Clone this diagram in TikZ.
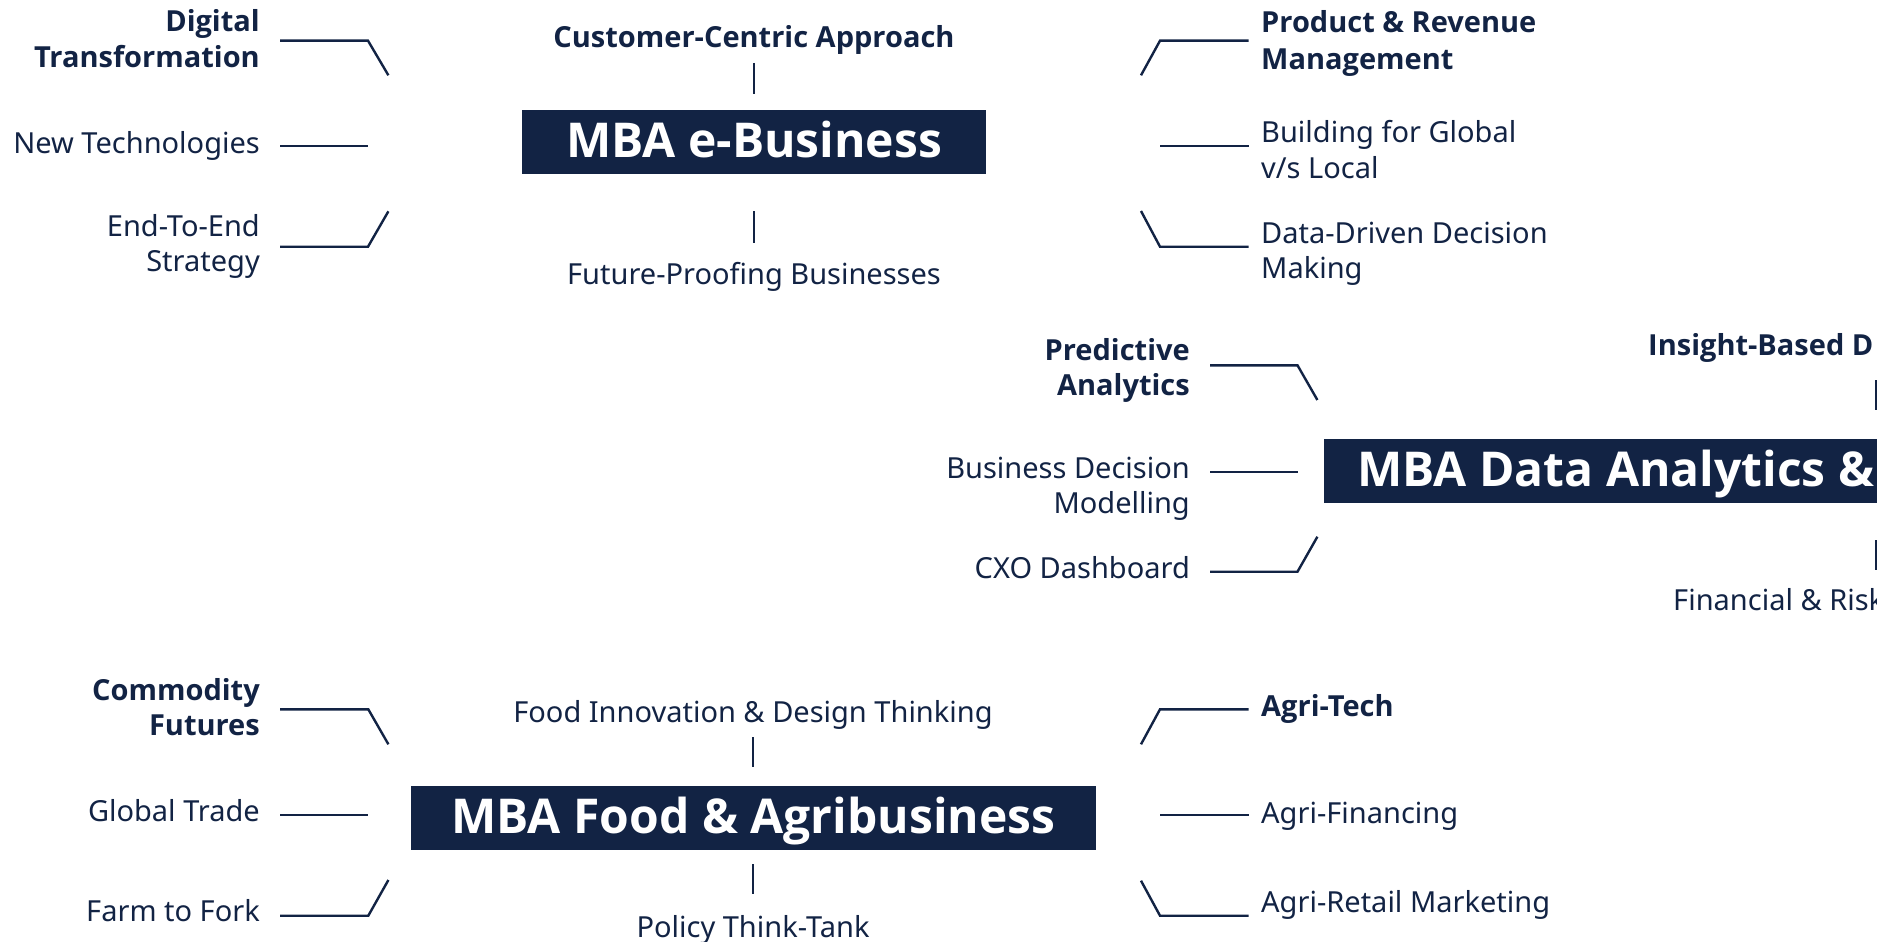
\documentclass[tikz,border=0pt]{standalone}
\usepackage{fontspec}
\setmainfont{Noto Sans}
\newfontfamily\heavyfam{Open Sans}
\definecolor{navy}{RGB}{18,35,68}
\begin{document}
\begin{tikzpicture}[x=1pt,y=-1pt,
  lbl/.style={inner sep=0pt,text=navy,font=\fontsize{29}{35}\selectfont},
  lblb/.style={lbl,font=\fontsize{29}{35}\selectfont\heavyfam\bfseries},
  boxbg/.style={fill=navy,inner sep=0pt,draw=none},
  ttl/.style={inner sep=0pt,text=white,font=\fontsize{48}{56}\selectfont\heavyfam\bfseries},
  link/.style={draw=navy,line width=2.4pt,line join=miter}]
\useasboundingbox (0,0) rectangle (1877,942);

% ---------- MBA e-Business ----------
\node[boxbg,minimum width=464pt,minimum height=64pt] (ebBox) at (754,142) {};
\node[ttl,anchor=base] (ebTitle) at (754,157.5) {MBA e-Business};

\node[lblb,anchor=base east] (dtA) at (260,32) {Digital};
\node[lblb,anchor=base east] (dtB) at (260,68) {Transformation};
\node[lbl,anchor=base east] (nt) at (260,153) {New Technologies};
\node[lbl,anchor=base east] (eeA) at (260,236) {End-To-End};
\node[lbl,anchor=base east] (eeB) at (260,271) {Strategy};

\node[lblb,anchor=base] (cca) at (754,48) {Customer-Centric Approach};
\node[lbl,anchor=base] (fpb) at (754,284) {Future-Proofing Businesses};

\node[lblb,anchor=base west] (prA) at (1261,33) {Product \& Revenue};
\node[lblb,anchor=base west] (prB) at (1261,69.5) {Management};
\node[lbl,anchor=base west] (bgA) at (1261,142) {Building for Global};
\node[lbl,anchor=base west] (bgB) at (1261,178.5) {v/s Local};
\node[lbl,anchor=base west] (ddA) at (1261,243.5) {Data-Driven Decision};
\node[lbl,anchor=base west] (ddB) at (1261,278.5) {Making};

\coordinate (e1a) at (280,40.7);  \coordinate (e1b) at (368,40.7);  \coordinate (e1c) at (388.4,75.3);
\coordinate (e2a) at (280,146);   \coordinate (e2b) at (368,146);
\coordinate (e3a) at (280,246.7); \coordinate (e3b) at (368,246.7); \coordinate (e3c) at (388.4,211.3);
\coordinate (e4a) at (754,63);    \coordinate (e4b) at (754,94);
\coordinate (e5a) at (754,211);   \coordinate (e5b) at (754,243);
\coordinate (e6a) at (1141,75.3); \coordinate (e6b) at (1160,40.7); \coordinate (e6c) at (1248.5,40.7);
\coordinate (e7a) at (1160,146);  \coordinate (e7b) at (1248.5,146);
\coordinate (e8a) at (1141,211);  \coordinate (e8b) at (1160,246.7); \coordinate (e8c) at (1248.5,246.7);
\draw[link] (e1a) -- (e1b) -- (e1c);
\draw[link] (e2a) -- (e2b);
\draw[link] (e3a) -- (e3b) -- (e3c);
\draw[link] (e4a) -- (e4b);
\draw[link] (e5a) -- (e5b);
\draw[link] (e6a) -- (e6b) -- (e6c);
\draw[link] (e7a) -- (e7b);
\draw[link] (e8a) -- (e8b) -- (e8c);

% ---------- MBA Data Analytics ----------
\node[boxbg,minimum width=1104pt,minimum height=64pt,anchor=west] (daBox) at (1324,471) {};
\node[ttl,anchor=base west] (daTitle) at (1357,486) {MBA Data Analytics \&};

\node[lblb,anchor=base east] (paA) at (1190,360.3) {Predictive};
\node[lblb,anchor=base east] (paB) at (1190,395) {Analytics};
\node[lbl,anchor=base east] (bdA) at (1190,478.3) {Business Decision};
\node[lbl,anchor=base east] (bdB) at (1190,513.3) {Modelling};
\node[lbl,anchor=base east] (cxo) at (1190,578.3) {CXO Dashboard};

\node[lblb,anchor=base west] (ibd) at (1648,355) {Insight-Based D};
\node[lbl,anchor=base west] (frm) at (1673,610) {Financial \& Risk};

\coordinate (d1a) at (1210,365.3); \coordinate (d1b) at (1297.5,365.3); \coordinate (d1c) at (1317.4,400);
\coordinate (d2a) at (1210,471.7); \coordinate (d2b) at (1297.5,471.7);
\coordinate (d3a) at (1210,571.7); \coordinate (d3b) at (1297.5,571.7); \coordinate (d3c) at (1317.4,536.7);
\coordinate (d4a) at (1876.5,380); \coordinate (d4b) at (1876.5,410);
\coordinate (d5a) at (1876.5,540); \coordinate (d5b) at (1876.5,570);
\draw[link] (d1a) -- (d1b) -- (d1c);
\draw[link] (d2a) -- (d2b);
\draw[link] (d3a) -- (d3b) -- (d3c);
\draw[link] (d4a) -- (d4b);
\draw[link] (d5a) -- (d5b);

% ---------- MBA Food & Agribusiness ----------
\node[boxbg,minimum width=685.3pt,minimum height=64pt] (faBox) at (753.4,818) {};
\node[ttl,anchor=base] (faTitle) at (753.4,833.3) {MBA Food \& Agribusiness};

\node[lblb,anchor=base east] (cfA) at (260,700) {Commodity};
\node[lblb,anchor=base east] (cfB) at (260,735) {Futures};
\node[lbl,anchor=base east] (gt) at (260,821.7) {Global Trade};
\node[lbl,anchor=base east] (ftf) at (260,921.7) {Farm to Fork};

\node[lbl,anchor=base] (fid) at (753,722.2) {Food Innovation \& Design Thinking};
\node[lbl,anchor=base] (ptt) at (753,937) {Policy Think-Tank};

\node[lblb,anchor=base west] (at) at (1261,716.7) {Agri-Tech};
\node[lbl,anchor=base west] (af) at (1261,823.8) {Agri-Financing};
\node[lbl,anchor=base west] (arm) at (1261,912.7) {Agri-Retail Marketing};

\coordinate (f1a) at (280,709.3); \coordinate (f1b) at (368.3,709.3); \coordinate (f1c) at (388.4,744.3);
\coordinate (f2a) at (280,815);   \coordinate (f2b) at (368.3,815);
\coordinate (f3a) at (280,915.7); \coordinate (f3b) at (368.3,915.7); \coordinate (f3c) at (388.4,880);
\coordinate (f4a) at (753,737);   \coordinate (f4b) at (753,767.3);
\coordinate (f5a) at (753,864);   \coordinate (f5b) at (753,894.3);
\coordinate (f6a) at (1141,744.3); \coordinate (f6b) at (1160,709.3); \coordinate (f6c) at (1248.6,709.3);
\coordinate (f7a) at (1160,815);   \coordinate (f7b) at (1248.6,815);
\coordinate (f8a) at (1141,880.7); \coordinate (f8b) at (1160,915.7); \coordinate (f8c) at (1248.6,915.7);
\draw[link] (f1a) -- (f1b) -- (f1c);
\draw[link] (f2a) -- (f2b);
\draw[link] (f3a) -- (f3b) -- (f3c);
\draw[link] (f4a) -- (f4b);
\draw[link] (f5a) -- (f5b);
\draw[link] (f6a) -- (f6b) -- (f6c);
\draw[link] (f7a) -- (f7b);
\draw[link] (f8a) -- (f8b) -- (f8c);
\end{tikzpicture}
\end{document}
